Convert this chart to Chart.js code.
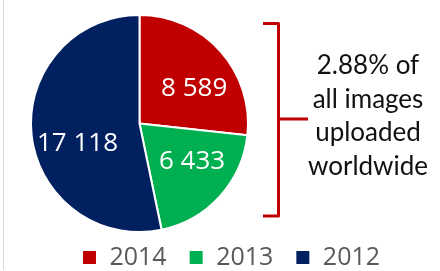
<!DOCTYPE html>
<html>
<head>
<meta charset="utf-8">
<script src="https://cdn.jsdelivr.net/npm/chart.js@4"></script>
<style>
  html, body { margin: 0; padding: 0; background: #fff; }
  #wrap { width: 440px; height: 271px; }
</style>
</head>
<body>
<div id="wrap"><canvas id="chart" width="440" height="271"></canvas></div>
<script>
const anos       = ['2014', '2013', '2012'];
const imagens    = [8589, 6433, 17118];
const cores      = ['#C00000', '#00B050', '#002060'];
const notaLinhas = ['2.88% of', 'all images', 'uploaded', 'worldwide'];

// deslocamento (graus) dos rótulos em relação ao meio da fatia, imitando o "best fit" do Excel
const ajusteRotulo = [9, -6, -12];

// 17118 -> "17 118"
const fmtNum = v => String(v).replace(/\B(?=(\d{3})+(?!\d))/g, ' ');

// Pizza à esquerda e legenda centrada no bloco inteiro, como no gráfico original
const layoutPlugin = {
  id: 'layoutExcel',
  afterLayout(chart) {
    const a = chart.chartArea;
    a.left = 30; a.top = 14; a.right = 249; a.bottom = 233;
    a.width  = a.right - a.left;
    a.height = a.bottom - a.top;
    const lg = chart.legend;
    lg.left += 11; lg.right += 11;
    lg.top  += 9;  lg.bottom += 9;
  },
  beforeDraw(chart) {
    // linha cinza da borda esquerda
    const { ctx } = chart;
    ctx.save();
    ctx.strokeStyle = '#d9d9d9';
    ctx.lineWidth = 1;
    ctx.beginPath();
    ctx.moveTo(3.5, 0);
    ctx.lineTo(3.5, 270);
    ctx.stroke();
    ctx.restore();
  }
};

const rotulosPlugin = {
  id: 'rotulos',
  afterDatasetsDraw(chart) {
    const { ctx } = chart;
    const meta = chart.getDatasetMeta(0);
    ctx.save();
    ctx.font = '26px "Open Sans"';
    ctx.fillStyle = '#fff';
    ctx.textAlign = 'center';
    ctx.textBaseline = 'middle';
    meta.data.forEach((arc, i) => {
      const { x, y, startAngle, endAngle, outerRadius } =
        arc.getProps(['x', 'y', 'startAngle', 'endAngle', 'outerRadius'], true);
      const ang = (startAngle + endAngle) / 2 + ajusteRotulo[i] * Math.PI / 180;
      const r = outerRadius * 0.6;
      ctx.fillText(fmtNum(imagens[i]), x + Math.cos(ang) * r, y + Math.sin(ang) * r);
    });
    ctx.restore();
  }
};

const notaPlugin = {
  id: 'nota',
  afterDraw(chart) {
    const { ctx } = chart;
    ctx.save();
    // chave vermelha
    ctx.strokeStyle = '#C00000';
    ctx.lineWidth = 3;
    ctx.lineJoin = 'round';
    ctx.beginPath();
    ctx.moveTo(263, 23.5);
    ctx.lineTo(278.5, 23.5);
    ctx.lineTo(278.5, 216);
    ctx.lineTo(263, 216);
    ctx.moveTo(278.5, 119);
    ctx.lineTo(308, 119);
    ctx.stroke();

    ctx.font = '26px Lato';
    ctx.fillStyle = '#111';
    ctx.textAlign = 'center';
    ctx.textBaseline = 'alphabetic';
    notaLinhas.forEach((txt, i) => ctx.fillText(txt, 368, 74 + i * 33.7));
    ctx.restore();
  }
};

new Chart(document.getElementById('chart'), {
  type: 'pie',
  data: {
    labels: anos,
    datasets: [{
      data: imagens,
      backgroundColor: cores,
      borderColor: '#fff',
      borderWidth: 2,
    }],
  },
  options: {
    responsive: false,
    animation: false,
    layout: { padding: 0 },
    plugins: {
      tooltip: { enabled: false },
      legend: {
        position: 'bottom',
        labels: {
          color: '#595959',
          font: { family: '"Open Sans"', size: 25 },
          boxWidth: 15,
          boxHeight: 15,
          padding: 22,
        },
      },
    },
  },
  plugins: [layoutPlugin, rotulosPlugin, notaPlugin],
});
</script>
</body>
</html>
